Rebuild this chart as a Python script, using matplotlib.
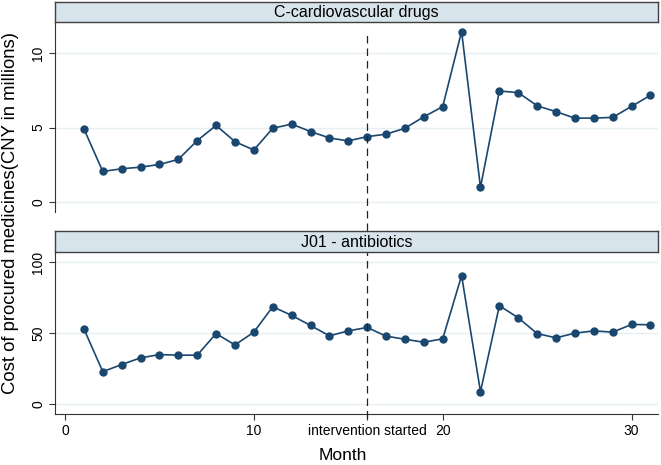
import numpy as np
import matplotlib
matplotlib.use('Agg')
import matplotlib.pyplot as plt

plt.rcParams['font.family'] = ['Liberation Sans', 'DejaVu Sans']

# data
months = np.arange(1, 32)
cardio = [4.91, 2.05, 2.23, 2.34, 2.52, 2.86, 4.12, 5.14, 4.05, 3.49,
          4.95, 5.23, 4.73, 4.30, 4.10, 4.39, 4.55, 4.95, 5.72, 6.40,
          11.44, 0.99, 7.45, 7.34, 6.46, 6.06, 5.63, 5.63, 5.68, 6.42, 7.16]
antib = [52.9, 22.8, 27.8, 32.5, 34.8, 34.4, 34.4, 49.6, 41.6, 50.6,
         68.5, 62.4, 55.3, 48.0, 51.5, 53.9, 47.8, 45.6, 43.5, 45.9,
         90.4, 8.7, 69.2, 60.7, 49.6, 46.6, 49.9, 51.5, 50.6, 56.0, 55.8]
titles = ['C-cardiovascular drugs', 'J01 - antibiotics']
intervention = 16
xticks = [0, 10, 16, 20, 30]
xticklabels = ['0', '10', 'intervention started', '20', '30']

navy = '#1a476f'
strip_col = '#d7e4eb'
grid_col = '#e6eff2'

fig = plt.figure(figsize=(6.61, 4.65), dpi=100)

L, W = 55 / 661, (658 - 55) / 661
def fy(px):
    return 1 - px / 465

panels = [
    dict(top=22, bot=212, strip=(2, 22), y=cardio, ylim=(-0.67, 12.08), yt=[0, 5, 10]),
    dict(top=252, bot=414, strip=(231, 252), y=antib, ylim=(-7, 107), yt=[0, 50, 100]),
]

axes = []
for i, p in enumerate(panels):
    ax = fig.add_axes([L, fy(p['bot']), W, fy(p['top']) - fy(p['bot'])])
    ax.plot(months, p['y'], color=navy, lw=1.2, marker='o', ms=5, zorder=3)
    ax.set_xlim(-0.53, 31.4)
    ax.set_ylim(*p['ylim'])
    ax.set_yticks(p['yt'])
    ax.set_yticklabels([str(v) for v in p['yt']], rotation=90, va='center', fontsize=10)
    ax.grid(axis='y', color=grid_col, lw=1)
    ax.set_axisbelow(True)
    for s in ['top', 'right']:
        ax.spines[s].set_visible(False)
    ax.spines['left'].set_color('#333333')
    ax.tick_params(axis='y', direction='out', length=4, color='#333333', pad=3)
    if i == 0:
        ax.spines['bottom'].set_visible(False)
        ax.set_xticks([])
    else:
        ax.spines['bottom'].set_color('#333333')
        ax.set_xticks(xticks)
        ax.set_xticklabels(xticklabels, fontsize=10)
        ax.tick_params(axis='x', direction='out', length=4, color='#333333', pad=3)
    # strip header
    s0, s1 = p['strip']
    sax = fig.add_axes([L, fy(s1), W, fy(s0) - fy(s1)])
    sax.set_facecolor(strip_col)
    sax.set_xticks([])
    sax.set_yticks([])
    for sp in sax.spines.values():
        sp.set_color('#404040')
        sp.set_linewidth(1)
    sax.text(0.5, 0.45, titles[i], ha='center', va='center', fontsize=11.5,
             transform=sax.transAxes)
    axes.append((ax, sax))

# dashed intervention line spanning both panels
ax2 = axes[1][0]
ax2.axvline(intervention, ymin=(414 - 418) / 162, ymax=(414 - 35) / 162,
            color='#222222', lw=0.9, ls=(0, (6, 4)), clip_on=False, zorder=5)

fig.text(0.016, fy(213), 'Cost of procured medicines(CNY in millions)',
         rotation=90, ha='center', va='center', fontsize=13.3)
fig.text(343 / 661, fy(455), 'Month', ha='center', va='center', fontsize=12.5)

fig.savefig('out.png', dpi=100)
